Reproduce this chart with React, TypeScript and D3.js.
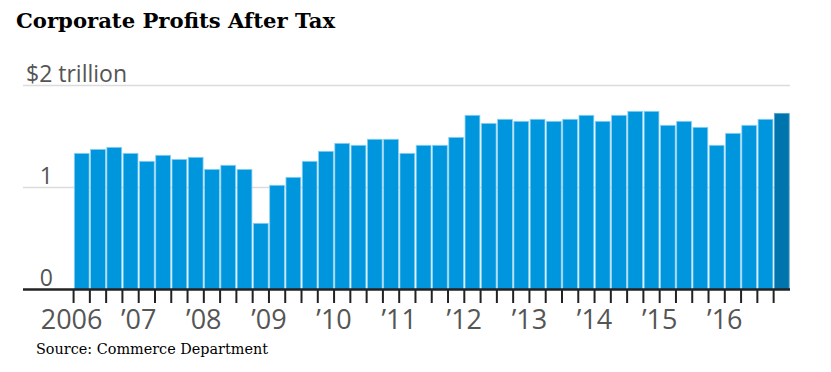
import * as d3 from "d3";

const quarters: string[] = d3.range(2006, 2017).flatMap((y) =>
  [1, 2, 3, 4].map((q) => `${y}Q${q}`)
);

// corporate profits after tax, $ trillion
const profits = [
  1.335, 1.374, 1.394, 1.335, 1.257, 1.316, 1.276, 1.296,
  1.178, 1.218, 1.178, 0.649, 1.022, 1.1, 1.257, 1.355,
  1.433, 1.414, 1.473, 1.473, 1.335, 1.414, 1.414, 1.492,
  1.708, 1.629, 1.669, 1.649, 1.669, 1.649, 1.669, 1.708,
  1.649, 1.708, 1.747, 1.747, 1.61, 1.649, 1.59, 1.414,
  1.531, 1.61, 1.669, 1.727,
];

const yearLabels = ["2006", "’07", "’08", "’09", "’10", "’11", "’12", "’13", "’14", "’15", "’16"];
const yTicks = [0, 1, 2];

export default function App() {
  const width = 831;
  const height = 372;
  const left = 23;
  const right = 790;

  const x = d3
    .scaleBand<string>()
    .domain(quarters)
    .range([73.5, 790])
    .paddingInner(0.09)
    .paddingOuter(0.05);
  const y = d3.scaleLinear([0, 2], [289.5, 85.5]);
  const step = x.step();
  const gap = step * 0.09;

  return (
    <svg
      width={width}
      height={height}
      style={{ position: "absolute", left: 0, top: 0, background: "#fff" }}
    >
      <text
        x={16}
        y={28}
        fontFamily="DejaVu Serif"
        fontWeight="bold"
        fontSize={20}
        textLength={319}
        lengthAdjust="spacingAndGlyphs"
        fill="#000"
      >
        Corporate Profits After Tax
      </text>

      {yTicks.slice(1).map((t) => (
        <line
          key={t}
          x1={left}
          x2={right}
          y1={y(t)}
          y2={y(t)}
          stroke="#dcdcdc"
          strokeWidth={1.5}
        />
      ))}

      {quarters.map((q, i) => (
        <rect
          key={q}
          x={x(q)}
          y={y(profits[i])}
          width={x.bandwidth()}
          height={y(0) - y(profits[i])}
          fill={i === quarters.length - 1 ? "#0075ad" : "#0096dd"}
          stroke={i === quarters.length - 1 ? "#5aa3c8" : "#8fd0f2"}
          strokeWidth={0.8}
        />
      ))}

      <g fontFamily="Open Sans" fill="#555">
        <text x={26} y={y(2) - 4} fontSize={23}>
          $2 trillion
        </text>
        {yTicks.slice(0, 2).map((t) => (
          <text key={t} x={53} y={y(t) - 4} fontSize={23} textAnchor="end">
            {t}
          </text>
        ))}
      </g>

      <line x1={left} x2={right} y1={y(0)} y2={y(0)} stroke="#222" strokeWidth={2.5} />

      {quarters.map((q) => (
        <line
          key={q}
          x1={(x(q) ?? 0) - gap / 2}
          x2={(x(q) ?? 0) - gap / 2}
          y1={y(0)}
          y2={303}
          stroke="#222"
          strokeWidth={2}
        />
      ))}

      <g fontFamily="Open Sans" fill="#555" fontSize={27} textAnchor="middle">
        {yearLabels.map((lab, i) => (
          <text key={lab} x={(x(quarters[i * 4]) ?? 0) - gap / 2 - (i === 0 ? 2 : 0)} y={329}>
            {lab}
          </text>
        ))}
      </g>

      <text
        x={36}
        y={354}
        fontFamily="DejaVu Serif"
        fontSize={14}
        textLength={232}
        lengthAdjust="spacingAndGlyphs"
        fill="#000"
      >
        Source: Commerce Department
      </text>
    </svg>
  );
}
